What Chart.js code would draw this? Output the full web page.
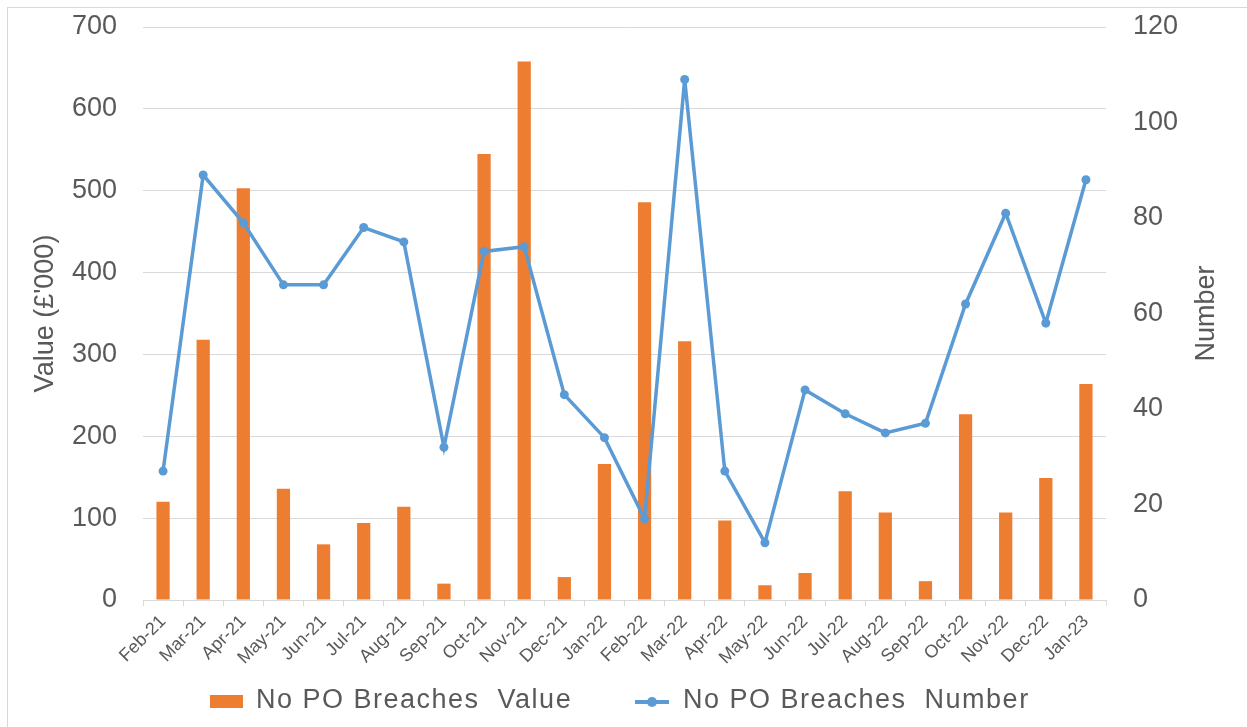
<!DOCTYPE html>
<html>
<head>
<meta charset="utf-8">
<script src="https://cdn.jsdelivr.net/npm/chart.js@4"></script>
<style>
  html, body { margin: 0; padding: 0; background: #ffffff; }
  #wrap { position: relative; width: 1247px; height: 727px; overflow: hidden; background: #fff; }
  #frame { position: absolute; left: 7px; top: 7px; width: 1260px; height: 740px; border-left: 1px solid #d9d9d9; border-top: 1px solid #d9d9d9; }
  canvas { position: absolute; left: 0; top: 0; }
  .lg { position: absolute; font-family: "Liberation Sans", Arial, sans-serif; font-size: 27px; line-height: 27px; color: #595959; white-space: pre; letter-spacing: 1.5px; }
  .box { position: absolute; background: #ED7D31; }
  .ln { position: absolute; background: #5B9BD5; }
  .dot { position: absolute; background: #5B9BD5; border-radius: 50%; }
</style>
</head>
<body>
<div id="wrap">
  <div id="frame"></div>
  <canvas id="c" width="1247" height="727"></canvas>
  <div class="box" style="left:210px;top:695px;width:33px;height:13px;"></div>
  <div class="lg" style="left:256px;top:686px;">No PO Breaches  Value</div>
  <div class="ln" style="left:635px;top:700px;width:34px;height:4px;"></div>
  <div class="dot" style="left:647px;top:697px;width:10px;height:10px;"></div>
  <div class="lg" style="left:683px;top:686px;">No PO Breaches  Number</div>
</div>
<script>
const categories = ['Feb-21','Mar-21','Apr-21','May-21','Jun-21','Jul-21','Aug-21','Sep-21','Oct-21','Nov-21','Dec-21','Jan-22','Feb-22','Mar-22','Apr-22','May-22','Jun-22','Jul-22','Aug-22','Sep-22','Oct-22','Nov-22','Dec-22','Jan-23'];
const breachValue = [120,318,503,136,68,94,114,20,545,658,28,166,486,316,97,18,33,133,107,23,227,107,149,264];
const breachNumber = [27,89,79,66,66,78,75,32,73,74,43,34,17,109,27,12,44,39,35,37,62,81,58,88];
const valueTicks = [0,100,200,300,400,500,600,700];
const numberTicks = [0,20,40,60,80,100,120];
const valueLabel = 'No PO Breaches  Value';
const numberLabel = 'No PO Breaches  Number';
const leftTitle = "Value (£'000)";
const rightTitle = 'Number';

const FONT = '"Liberation Sans", Arial, sans-serif';
const TXT = '#595959';
const GRID = '#d9d9d9';

const rightTitlePlugin = {
  id: 'rightTitle',
  afterDraw(chart) {
    const ctx = chart.ctx;
    const area = chart.chartArea;
    ctx.save();
    ctx.translate(1207, (area.top + area.bottom) / 2);
    ctx.rotate(-Math.PI / 2);
    ctx.font = '27px ' + FONT;
    ctx.fillStyle = TXT;
    ctx.textAlign = 'center';
    ctx.textBaseline = 'middle';
    ctx.fillText(rightTitle, 0, 0);
    ctx.restore();
  }
};

new Chart(document.getElementById('c'), {
  type: 'bar',
  data: {
    labels: categories,
    datasets: [
      {
        type: 'line',
        label: numberLabel,
        data: breachNumber,
        yAxisID: 'y1',
        borderColor: '#5B9BD5',
        backgroundColor: '#5B9BD5',
        borderWidth: 3.5,
        pointRadius: 4.5,
        pointBackgroundColor: '#5B9BD5',
        pointBorderColor: '#5B9BD5',
        pointBorderWidth: 0,
        tension: 0,
        order: 0
      },
      {
        type: 'bar',
        label: valueLabel,
        data: breachValue,
        yAxisID: 'y',
        backgroundColor: '#ED7D31',
        borderWidth: 0,
        barPercentage: 0.33,
        categoryPercentage: 1.0,
        order: 1
      }
    ]
  },
  options: {
    responsive: false,
    animation: false,
    devicePixelRatio: 1,
    layout: { padding: { top: 27, left: 0, right: 0, bottom: 0 } },
    plugins: {
      legend: { display: false },
      tooltip: { enabled: false }
    },
    scales: {
      x: {
        offset: true,
        grid: { display: true, drawOnChartArea: false, drawTicks: true, tickLength: 6, color: GRID, offset: true },
        border: { display: true, color: GRID, width: 1 },
        ticks: { color: TXT, font: { family: FONT, size: 18 }, minRotation: 45, maxRotation: 45, padding: 5, autoSkip: false },
        afterFit(scale) { scale.height = 127; scale.paddingLeft = 0; scale.paddingRight = 0; }
      },
      y: {
        position: 'left',
        min: 0, max: 700,
        afterBuildTicks(scale) { scale.ticks = valueTicks.map(v => ({ value: v })); },
        grid: { color: GRID, lineWidth: 1, drawTicks: false },
        border: { display: false },
        ticks: { color: TXT, font: { family: FONT, size: 27 }, padding: 26 },
        title: { display: true, text: leftTitle, color: TXT, font: { family: FONT, size: 27 }, padding: { top: 29, bottom: 0 } },
        afterFit(scale) { scale.width = 143; scale.paddingTop = 0; scale.paddingBottom = 0; }
      },
      y1: {
        position: 'right',
        min: 0, max: 120,
        afterBuildTicks(scale) { scale.ticks = numberTicks.map(v => ({ value: v })); },
        grid: { drawOnChartArea: false, drawTicks: false },
        border: { display: false },
        ticks: { color: TXT, font: { family: FONT, size: 27 }, padding: 27 },
        afterFit(scale) { scale.width = 141; scale.paddingTop = 0; scale.paddingBottom = 0; }
      }
    }
  },
  plugins: [rightTitlePlugin]
});
</script>
</body>
</html>
